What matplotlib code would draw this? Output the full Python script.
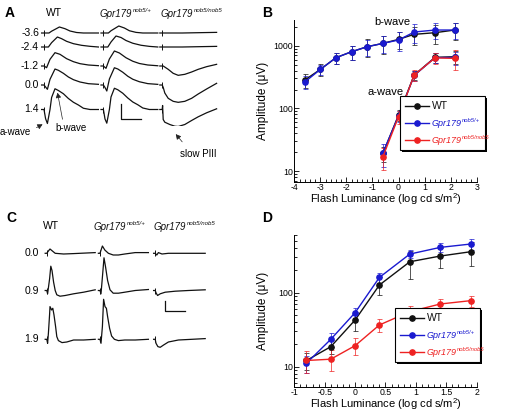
import matplotlib
matplotlib.use("Agg")
import matplotlib.pyplot as plt
import matplotlib.patheffects as pe
from matplotlib.lines import Line2D
import numpy as np

W, H = 506, 412
BLK, BLU, RED = "#111111", "#1a1ad0", "#ee2222"
plt.rcParams.update({"font.family": ["Liberation Sans", "DejaVu Sans"], "font.size": 7,
                     "mathtext.fontset": "custom", "mathtext.rm": "Liberation Sans",
                     "mathtext.it": "Liberation Sans:italic", "axes.linewidth": 0.7})

# ---- panel A: scotopic ERG traces (t in ms from flash, amplitude in uV) ----
A_rows = ["-3.6", "-2.4", "-1.2", "0.0", "1.4"]
A_wt = [
    ([-12, 0, 25, 38, 77, 105, 130, 163, 197, 272], [0, 0, 0, 72, 240, 172, 80, 20, 0, 0]),
    ([-12, 0, 22, 38, 67, 88, 113, 147, 188, 230, 272], [0, 0, 0, 173, 400, 333, 227, 133, 67, 27, 0]),
    ([-12, 0, 13, 30, 55, 80, 113, 147, 180, 222, 272], [0, 0, -67, 267, 533, 467, 293, 173, 93, 40, 13]),
    ([-12, 0, 8, 17, 30, 55, 72, 97, 122, 147, 180, 222, 272],
     [0, 0, -80, -173, 227, 640, 587, 467, 320, 213, 120, 53, 27]),
    ([-12, 0, 8, 17, 30, 38, 55, 72, 97, 122, 147, 172, 197, 230, 272],
     [0, 0, -370, -560, 0, 480, 830, 760, 630, 440, 290, 180, 50, 0, 0]),
]
A_het = [
    ([-12, 0, 25, 38, 77, 105, 130, 163, 197, 272], [0, 0, 0, 90, 280, 200, 90, 25, 0, 0]),
    ([-12, 0, 22, 38, 63, 88, 113, 147, 188, 230, 272], [0, 0, 0, 200, 440, 380, 260, 150, 70, 25, 0]),
    ([-12, 0, 13, 30, 55, 80, 113, 147, 180, 222, 272], [0, 0, -93, 280, 600, 520, 330, 190, 100, 40, 10]),
    ([-12, 0, 8, 17, 30, 55, 72, 97, 122, 147, 180, 222, 272],
     [0, 0, -100, -240, 240, 690, 640, 510, 350, 230, 130, 55, 25]),
    ([-12, 0, 8, 17, 30, 38, 55, 72, 97, 122, 147, 172, 197, 230, 272],
     [0, 0, -380, -547, 0, 500, 850, 790, 650, 460, 300, 190, 60, 0, 0]),
]
A_hom = [
    ([-12, 0, 100, 200, 272], [0, 0, 0, 15, 25]),
    ([-12, 0, 100, 200, 272], [0, 0, 0, 15, 25]),
    ([-12, 0, 5, 30, 55, 80, 113, 147, 180, 222, 272], [0, 0, 0, -133, -293, -373, -333, -240, -133, -27, 67]),
    ([-12, 0, 5, 13, 30, 55, 80, 113, 147, 180, 222, 272],
     [0, 0, -93, -320, -533, -653, -693, -653, -533, -360, -160, 67]),
    ([-12, 0, 2, 5, 13, 38, 63, 80, 113, 147, 180, 222, 272],
     [0, 0, 160, -400, -508, -600, -668, -680, -600, -440, -292, -132, 28]),
]

# ---- panel C: photopic ERG traces ----
C_rows = ["0.0", "0.9", "1.9"]
C_wt = [
    ([-4, 0, 4, 8, 14, 21, 42, 67, 121], [0, 0, 23, 43, 23, 0, -7, -3, 7]),
    ([-4, 0, 2, 7, 10, 13, 17, 21, 25, 33, 46, 67, 92, 121],
     [0, 0, -33, 117, 243, 200, 83, 0, -43, -57, -50, -33, -17, 7]),
    ([-4, 0, 2, 4, 7, 8, 12, 15, 18, 22, 25, 29, 38, 50, 67, 92, 121],
     [0, 0, -40, 60, 250, 327, 293, 310, 243, 127, 27, -13, -33, -27, -7, -7, 0]),
]
C_het = [
    ([-4, 0, 6, 12, 21, 33, 46, 62, 88, 121], [0, 0, 73, 33, 0, -17, -17, -7, 7, 7]),
    ([-4, 0, 2.5, 6, 10, 14, 19, 25, 33, 46, 62, 88, 121],
     [0, 0, -33, 133, 327, 233, 100, 7, -27, -27, -17, 0, 10]),
    ([-4, 0, 2.5, 6, 9, 12.5, 16, 19, 24, 29, 36, 46, 62, 88, 121],
     [0, 0, -40, 127, 400, 327, 310, 227, 110, 33, 0, -13, -7, -7, 0]),
]
C_hom = [
    ([-4, 0, 4, 8, 17, 33, 67, 125], [0, 0, -17, 7, -7, 0, 0, 0]),
    ([-4, 0, 2.5, 6, 12.5, 25, 50, 83, 125], [0, 0, -27, -50, -33, -17, -7, 0, 7]),
    ([-4, 0, 2, 6.7, 12.5, 21, 33, 58, 92, 125], [0, 0, -40, -73, -80, -57, -27, -7, 0, 7]),
]

# ---- panel B: scotopic amplitudes ----
B_bx = [-3.6, -3.0, -2.4, -1.8, -1.2, -0.6, 0.0, 0.6, 1.4, 2.15]
B_b_wt = [283, 419, 644, 802, 964, 1089, 1262, 1518, 1612, 1778]
B_b_wt_sd = [70, 90, 130, 200, 300, 350, 380, 500, 550, 550]
B_b_het = [263, 419, 644, 802, 964, 1089, 1231, 1652, 1778, 1778]
B_b_het_sd = [60, 80, 130, 200, 280, 330, 400, 550, 500, 500]
B_ax = [-0.6, 0.0, 0.6, 1.4, 2.15]
B_a_wt = [19.1, 78, 340, 652, 667]
B_a_wt_sd = [5, 15, 60, 120, 150]
B_a_het = [19.5, 76, 335, 645, 650]
B_a_het_sd = [8, 15, 60, 120, 150]
B_a_hom = [16.9, 73.6, 340, 640, 628]
B_a_hom_sd = [6.5, 18, 70, 130, 220]

# ---- panel D: photopic b-wave amplitudes ----
D_x = [-0.8, -0.4, 0.0, 0.4, 0.9, 1.4, 1.9]
D_wt = [12.1, 18.6, 42.7, 127, 262, 313, 358]
D_wt_sd = [3, 4, 12, 35, 110, 95, 130]
D_het = [11.1, 23.4, 53.7, 161, 333, 410, 455]
D_het_sd = [3, 5, 9, 25, 40, 60, 80]
D_hom = [12.1, 12.6, 19.2, 36.6, 55.4, 70.3, 78]
D_hom_sd = [4, 4, 5, 7, 11, 11, 13]

GENE = "Gpr179"
SUP_HET, SUP_HOM = "nob5/+", "nob5/nob5"
XLAB = r"Flash Luminance (log cd s/m$^2$)"
YLAB = "Amplitude (\u03bcV)"

fig = plt.figure(figsize=(W / 100, H / 100), dpi=100)
sups = []   # (text artist, superscript, colour, size) placed after a first draw


def rect(x0, y0, x1, y1):
    return [x0 / W, 1 - y1 / H, (x1 - x0) / W, (y1 - y0) / H]


def ftext(x, y, s, **kw):
    return fig.text(x / W, 1 - y / H, s, **kw)


def gene(x, y, sup, size=7, color=BLK):
    t = ftext(x, y, GENE, ha="left", va="center", fontsize=size, style="italic", color=color)
    sups.append((t, sup, color, 4.4))


def arrow(x0, y0, x1, y1):
    fig.add_artist(matplotlib.patches.FancyArrowPatch(
        (x0 / W, 1 - y0 / H), (x1 / W, 1 - y1 / H), transform=fig.transFigure,
        arrowstyle="-|>,head_length=3,head_width=1.6", lw=0.5, color="#222222"))


def traces(ax, cols, sets, rows_off):
    for c0, tr in zip(cols, sets):
        for off, (t, v) in zip(rows_off, tr):
            ax.plot(np.array(t) + c0, np.array(v) + off, color=BLK, lw=0.9)
            ax.plot([c0], [off], marker="|", ms=4.5, mew=0.7, color=BLK)


# panel A  (1 px = 5 ms, 40 uV)
axA = fig.add_axes(rect(40, 22, 222, 126))
axA.set_xlim(0, 910); axA.set_ylim(-4160, 0); axA.axis("off")
A_base = [33, 47, 66, 85, 109.5]
traces(axA, [20, 317, 611], [A_wt, A_het, A_hom], [-(y - 22) * 40 for y in A_base])
axA.plot([403, 403, 503], [-3280, -3880, -3880], color=BLK, lw=0.9)   # 100 ms / 600 uV
for y, s in zip(A_base, A_rows):
    ftext(39, y, s, ha="right", va="center", fontsize=7.5)
ftext(54, 13, "WT", ha="center", va="center", fontsize=7.5)
gene(100, 14, SUP_HET)
gene(161, 14, SUP_HOM)
ftext(0, 132, "a-wave", ha="left", va="center", fontsize=7)
ftext(55, 128, "b-wave", ha="left", va="center", fontsize=7)
ftext(198, 154, "slow PIII", ha="center", va="center", fontsize=7)
arrow(34, 129, 45, 123)
arrow(63, 122, 57, 90)
arrow(184, 144, 174, 132)

# panel C  (1 px = 2.5 ms, 10 uV)
axC = fig.add_axes(rect(40, 240, 210, 350))
axC.set_xlim(0, 425); axC.set_ylim(-1100, 0); axC.axis("off")
C_base = [253.3, 290.5, 339.3]
traces(axC, [17, 150, 288], [C_wt, C_het, C_hom], [-(y - 240) * 10 for y in C_base])
axC.plot([312, 312, 362], [-610, -710, -710], color=BLK, lw=0.9)     # 50 ms / 100 uV
for y, s in zip(C_base, C_rows):
    ftext(39, y, s, ha="right", va="center", fontsize=7.5)
ftext(51, 226, "WT", ha="center", va="center", fontsize=7.5)
gene(94, 227, SUP_HET)
gene(154, 227, SUP_HOM)

for s, x, y in [("A", 5, 13), ("B", 262, 13), ("C", 6, 218), ("D", 262, 218)]:
    ftext(x, y, s, ha="left", va="center", fontsize=10, fontweight="bold")


def style(ax, major, minor, x0, x1, y0, y1):
    ax.set_yscale("log")
    for sp in ("top", "right"):
        ax.spines[sp].set_visible(False)
    ax.xaxis.set_major_locator(matplotlib.ticker.MultipleLocator(major))
    ax.xaxis.set_minor_locator(matplotlib.ticker.MultipleLocator(minor))
    ax.xaxis.set_major_formatter(matplotlib.ticker.FuncFormatter(lambda v, p: f"{v:g}"))
    ax.tick_params(which="both", direction="in", labelsize=6.3, width=0.6, pad=1)
    ax.tick_params(which="major", length=3.5)
    ax.tick_params(which="minor", length=2)
    ax.yaxis.set_major_formatter(matplotlib.ticker.FuncFormatter(lambda v, p: f"{v:g}"))
    ax.yaxis.set_minor_formatter(matplotlib.ticker.NullFormatter())
    ax.set_xlabel(XLAB, fontsize=8, va="center")
    ax.set_ylabel(YLAB, fontsize=8.5, va="center")
    ax.xaxis.set_label_coords(0.5, -(x1 - y1) / (y1 - y0))
    ax.yaxis.set_label_coords(-(294.3 - x0) / 182.4, 0.5)


def series(ax, x, y, sd, c):
    ax.errorbar(x, y, yerr=sd, color=c, lw=1.0, marker="o", ms=3.8, capsize=1.8,
                elinewidth=0.5, capthick=0.5)


def legend(ax, x, y, w):
    hs = [Line2D([], [], color=c, lw=1.0, marker="o", ms=3.8) for c in (BLK, BLU, RED)]
    lg = ax.legend(hs, ["WT", GENE, GENE], loc="upper left", mode="expand",
                   bbox_to_anchor=(x / W, 1 - (y + 60) / H, w / W, 60 / H), bbox_transform=fig.transFigure,
                   fontsize=6.5, frameon=True, fancybox=False, borderpad=0.6,
                   labelspacing=0.85, handlelength=2.6, handletextpad=0.3, borderaxespad=0)
    fr = lg.get_frame()
    fr.set_edgecolor("black"); fr.set_linewidth(0.8); fr.set_alpha(1)
    fr.set_path_effects([pe.SimplePatchShadow(offset=(1.6, -1.6), shadow_rgbFace="black", alpha=1),
                         pe.Normal()])
    txt = lg.get_texts()
    txt[0].set_fontsize(7.5)
    for t, c, s in zip(txt[1:], [BLU, RED], [SUP_HET, SUP_HOM]):
        t.set_color(c); t.set_style("italic")
        sups.append((t, s, c, 4.2))
    txt[0].set_color(BLK)


# panel B
axB = fig.add_axes(rect(294.3, 20, 476.7, 182))
series(axB, B_bx, B_b_wt, B_b_wt_sd, BLK)
series(axB, B_bx, B_b_het, B_b_het_sd, BLU)
series(axB, B_ax, B_a_wt, B_a_wt_sd, BLK)
series(axB, B_ax, B_a_het, B_a_het_sd, BLU)
series(axB, B_ax, B_a_hom, B_a_hom_sd, RED)
axB.set_xlim(-4, 3); axB.set_ylim(6.7, 2570)
style(axB, 1, 0.2, 263, 199.5, 20, 182)
axB.text(-0.25, 2415, "b-wave", ha="center", va="center", fontsize=8)
axB.text(-0.48, 185, "a-wave", ha="center", va="center", fontsize=8)
legend(axB, 400, 96, 85)

# panel D
axD = fig.add_axes(rect(294.3, 235, 476.7, 387))
series(axD, D_x, D_wt, D_wt_sd, BLK)
series(axD, D_x, D_het, D_het_sd, BLU)
series(axD, D_x, D_hom, D_hom_sd, RED)
axD.set_xlim(-1, 2); axD.set_ylim(5.3, 603)
style(axD, 0.5, 0.1, 263, 404, 235, 387)
legend(axD, 395, 308, 85)

# superscripts after the base words
fig.canvas.draw()
r = fig.canvas.get_renderer()
for t, s, c, size in sups:
    bb = t.get_window_extent(r)
    fig.text((bb.x1 + 0.3) / W, (bb.y1 - 1.5) / H, s, fontsize=size, style="italic", color=c,
             ha="left", va="center")

fig.savefig("out.png", dpi=100)
